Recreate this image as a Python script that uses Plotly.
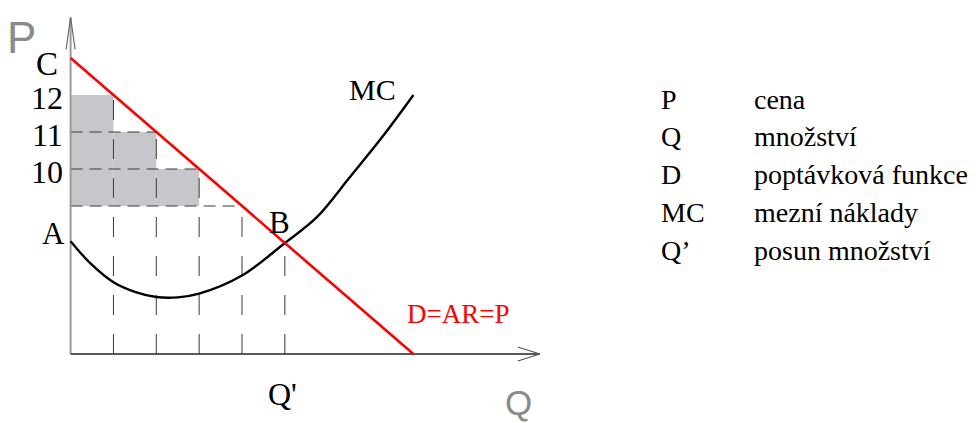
import plotly.graph_objects as go

# ---------------- data ----------------
# demand line D = AR = P  (Q, P)
demand_q = [0, 8]
demand_p = [13, 5]
# marginal cost curve MC (Q, P)
mc_q = [0, 0.47, 1, 1.5, 2, 2.5, 3, 4, 5, 5.74, 6.51, 7.29, 8]
mc_p = [8.05, 7.44, 6.94, 6.68, 6.54, 6.53, 6.63, 7.12, 8.0, 8.69, 9.77, 10.89, 12.0]
# price steps (staircase under demand)
step_q = [1, 2, 3]
step_p = [12, 11, 10]
step_floor = 9
# dashed guide levels
guide_p = [11, 10, 9]
guide_q = [1, 2, 3, 4, 5]
p_base = 5            # price at the horizontal axis
q_axis_end = 10.95
p_axis_end = 14.1
tick_labels = ["12", "11", "10"]
legend_sym = ["P", "Q", "D", "MC", "Q\u2019"]
legend_txt = ["cena", "množství", "poptávková funkce", "mezní náklady", "posun množství"]


def demand(q):
    return demand_p[0] + (demand_p[1] - demand_p[0]) * (q - demand_q[0]) / (demand_q[1] - demand_q[0])


def demand_inv(p):
    return demand_q[0] + (p - demand_p[0]) * (demand_q[1] - demand_q[0]) / (demand_p[1] - demand_p[0])


# pixel geometry -> axis ranges (page body has an 8px margin)
PAD = 8
W, H = 980 - PAD, 423 - PAD
ox, oy = 70.6 - PAD, 354.0 - PAD
sx, sy = 42.85, 37.0
x_range = [0 - ox / sx, 0 + (W - ox) / sx]
y_range = [p_base - (H - oy) / sy, p_base + oy / sy]

fig = go.Figure()
SERIF = "Liberation Serif"
SANS = "Liberation Sans"

# grey staircase rectangles
for i, (q, p) in enumerate(zip(step_q, step_p)):
    fig.add_shape(type="rect", xref="x", yref="y", x0=q - 1, x1=q, y0=step_floor, y1=p,
                  fillcolor="#c7c6ca", line=dict(width=0), layer="below")

# horizontal dashed guides
for p in guide_p:
    fig.add_trace(go.Scatter(x=[0, demand_inv(p)], y=[p, p], mode="lines",
                             line=dict(color="#3a3a3a", width=1, dash="12px,7px"),
                             hoverinfo="skip", showlegend=False))
# vertical dashed guides
for q in guide_q:
    fig.add_trace(go.Scatter(x=[q, q], y=[p_base, demand(q)], mode="lines",
                             line=dict(color="#3a3a3a", width=1, dash="20px,19px"),
                             hoverinfo="skip", showlegend=False))

# axes
fig.add_trace(go.Scatter(x=[0, 0], y=[p_base, p_axis_end], mode="lines",
                         line=dict(color="#9a9a9a", width=2), hoverinfo="skip", showlegend=False))
fig.add_trace(go.Scatter(x=[0, q_axis_end], y=[p_base, p_base], mode="lines",
                         line=dict(color="#222222", width=1.3), hoverinfo="skip", showlegend=False))
# arrow heads (open)
ay_dx, ay_dy = 4.5 / sx, 32 / sy
fig.add_trace(go.Scatter(x=[-ay_dx, 0, ay_dx], y=[p_axis_end - ay_dy, p_axis_end, p_axis_end - ay_dy],
                         mode="lines", line=dict(color="#6a6a6a", width=1.2),
                         hoverinfo="skip", showlegend=False))
ax_dx, ax_dy = 22 / sx, 7 / sy
fig.add_trace(go.Scatter(x=[q_axis_end - ax_dx, q_axis_end, q_axis_end - ax_dx],
                         y=[p_base + ax_dy, p_base, p_base - ax_dy],
                         mode="lines", line=dict(color="#555555", width=1.2),
                         hoverinfo="skip", showlegend=False))

# MC curve
fig.add_trace(go.Scatter(x=mc_q, y=mc_p, mode="lines", line=dict(color="#000000", width=2.4, shape="spline"),
                         hoverinfo="skip", showlegend=False))
# demand line
fig.add_trace(go.Scatter(x=demand_q, y=demand_p, mode="lines", line=dict(color="#ff0000", width=2.6),
                         hoverinfo="skip", showlegend=False))

ann = []
# price labels
ann.append(dict(x=0, y=demand_p[0], xref="x", yref="y", text="C", showarrow=False,
                xanchor="right", yanchor="middle", xshift=-11, yshift=-6,
                font=dict(family=SERIF, size=33, color="#000")))
for p, t in zip(step_p, tick_labels):
    ann.append(dict(x=0, y=p, xref="x", yref="y", text=t, showarrow=False,
                    xanchor="right", yanchor="middle", xshift=-6, yshift=-3,
                    font=dict(family=SERIF, size=32, color="#000")))
ann.append(dict(x=mc_q[0], y=mc_p[0], xref="x", yref="y", text="A", showarrow=False,
                xanchor="right", yanchor="middle", xshift=-4, yshift=8,
                font=dict(family=SERIF, size=31, color="#000")))
ann.append(dict(x=guide_q[-1], y=demand(guide_q[-1]), xref="x", yref="y", text="B", showarrow=False,
                xanchor="center", yanchor="bottom", xshift=-5, yshift=1,
                font=dict(family=SERIF, size=31, color="#000")))
ann.append(dict(x=guide_q[-1], y=p_base, xref="x", yref="y", text="Q'", showarrow=False,
                xanchor="center", yanchor="top", xshift=-2, yshift=-20,
                font=dict(family=SERIF, size=32, color="#000")))
ann.append(dict(x=mc_q[-1], y=mc_p[-1], xref="x", yref="y", text="MC", showarrow=False,
                xanchor="right", yanchor="middle", xshift=-15, yshift=6,
                font=dict(family=SERIF, size=30, color="#000")))
ann.append(dict(x=demand_q[-1], y=demand_p[-1], xref="x", yref="y", text="D=AR=P", showarrow=False,
                xanchor="center", yanchor="middle", xshift=45, yshift=40,
                font=dict(family=SERIF, size=27, color="#ff0000")))
# axis names
ann.append(dict(x=0, y=p_axis_end, xref="x", yref="y", text="P", showarrow=False,
                xanchor="center", yanchor="middle", xshift=-49, yshift=-20,
                font=dict(family=SANS, size=44, color="#8a8a8a")))
ann.append(dict(x=q_axis_end, y=p_base, xref="x", yref="y", text="Q", showarrow=False,
                xanchor="center", yanchor="top", xshift=-21, yshift=-27,
                font=dict(family=SANS, size=35, color="#8a8a8a")))

# legend text block
row_y = [99, 136, 174, 212, 250]
for ry, s, t in zip(row_y, legend_sym, legend_txt):
    ann.append(dict(x=659 - PAD, y=H - (ry - PAD), xref="x2", yref="y2", text=s, showarrow=False,
                    xanchor="left", yanchor="middle", font=dict(family=SERIF, size=28, color="#000")))
    ann.append(dict(x=752 - PAD, y=H - (ry - PAD), xref="x2", yref="y2", text=t, showarrow=False,
                    xanchor="left", yanchor="middle", font=dict(family=SERIF, size=28, color="#000")))

fig.update_layout(
    width=W, height=H, autosize=False,
    margin=dict(l=0, r=0, t=0, b=0),
    paper_bgcolor="white", plot_bgcolor="white",
    xaxis=dict(range=x_range, visible=False, fixedrange=True),
    yaxis=dict(range=y_range, visible=False, fixedrange=True),
    xaxis2=dict(range=[0, W], visible=False, overlaying="x", fixedrange=True),
    yaxis2=dict(range=[0, H], visible=False, overlaying="y", fixedrange=True),
    annotations=ann,
    showlegend=False,
)
fig.write_html("out.html")
